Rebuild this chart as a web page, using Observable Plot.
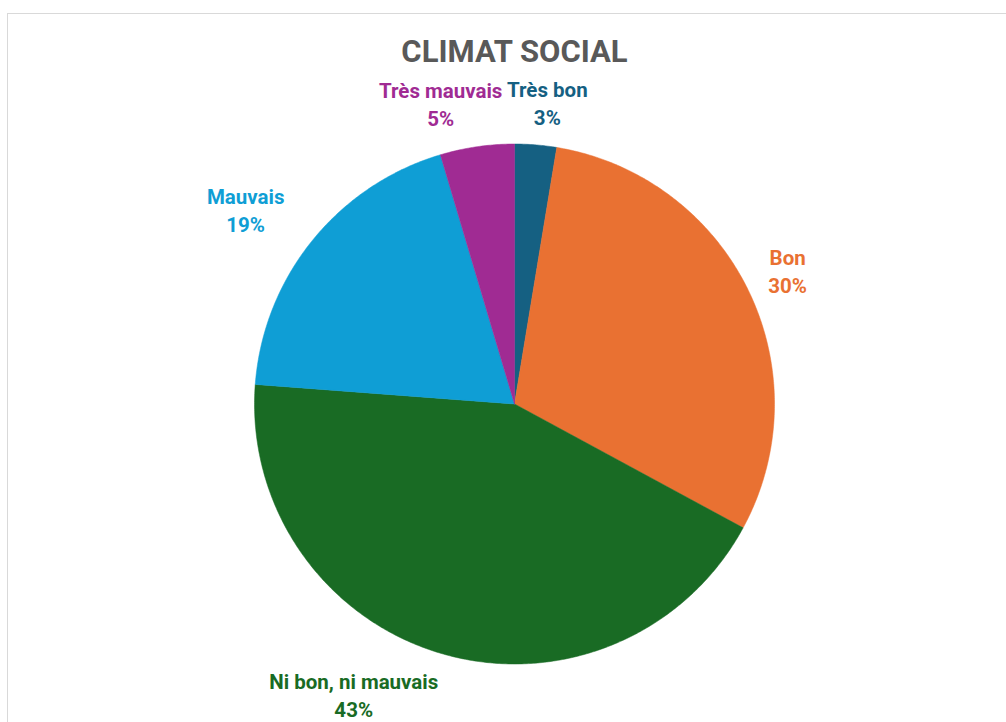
<!DOCTYPE html>
<html>
<head>
<meta charset="utf-8">
<script src="https://cdn.jsdelivr.net/npm/d3@7"></script>
<script src="https://cdn.jsdelivr.net/npm/@observablehq/plot@0.6"></script>
<style>
  html, body { margin: 0; padding: 0; background: #fff; }
  #wrap { position: relative; width: 1006px; height: 722px; overflow: hidden; }
  #frame { position: absolute; left: 7px; top: 13px; right: 0; bottom: 0;
           border-top: 1px solid #d9d9d9; border-left: 1px solid #d9d9d9; pointer-events: none; }
  svg { display: block; }
</style>
</head>
<body>
<div id="wrap"><div id="frame"></div></div>
<script>
// ---- data ----
const title = "CLIMAT SOCIAL";
const categories = ["Très bon", "Bon", "Ni bon, ni mauvais", "Mauvais", "Très mauvais"];
const values = [2.6, 30.3, 43.3, 19.2, 4.6];
const colors = ["#156082", "#E97132", "#196B24", "#0F9ED5", "#A02B93"];

// ---- layout / style ----
const W = 1006, H = 722;
const cx = 514, cy = 403.5, R = 260;       // pie centre and radius in px
const labelR = 1.17;                        // label radius relative to pie radius
const labelNudge = [[8, 1], [0, 0], [-75, -2], [-32, -4], [-30, 0]]; // px tweaks
const font = "Roboto, 'Open Sans', sans-serif";

// ---- build slice polygons from values ----
const total = d3.sum(values);
let acc = 0;
const slices = categories.map((c, i) => {
  const a0 = acc / total * 2 * Math.PI;
  acc += values[i];
  const a1 = acc / total * 2 * Math.PI;
  return {cat: c, value: values[i], a0, a1};
});
const points = [];
for (const s of slices) {
  points.push({cat: s.cat, x: 0, y: 0});
  const n = Math.max(2, Math.ceil((s.a1 - s.a0) / (Math.PI / 360)));
  for (let k = 0; k <= n; ++k) {
    const a = s.a0 + (s.a1 - s.a0) * k / n;
    points.push({cat: s.cat, x: Math.sin(a), y: Math.cos(a)});
  }
  points.push({cat: s.cat, x: 0, y: 0});
}
const labels = slices.map(s => {
  const m = (s.a0 + s.a1) / 2;
  return {cat: s.cat, x: labelR * Math.sin(m), y: labelR * Math.cos(m),
          text: `${s.cat}\n${Math.round(s.value / total * 100)}%`};
});

const chart = Plot.plot({
  width: W, height: H,
  margin: 0,
  style: {background: "transparent", fontFamily: font},
  x: {domain: [-cx / R, (W - cx) / R], axis: null},
  y: {domain: [-(H - cy) / R, cy / R], axis: null},
  color: {domain: categories, range: colors},
  marks: [
    Plot.line(points, {x: "x", y: "y", z: "cat", fill: "cat", stroke: "cat", strokeWidth: 0.5}),
    ...labels.map((d, i) => Plot.text([d], {
      x: "x", y: "y", text: "text", fill: "cat",
      dx: labelNudge[i][0], dy: labelNudge[i][1],
      fontSize: 20.5, fontWeight: "bold", lineHeight: 1.35, textAnchor: "middle"
    })),
    Plot.text([title], {frameAnchor: "top", dx: 11, dy: 52, text: d => d, fill: "#595959",
      fontSize: 31, fontWeight: "bold", lineAnchor: "middle"})
  ]
});
document.getElementById("wrap").prepend(chart);
</script>
</body>
</html>
